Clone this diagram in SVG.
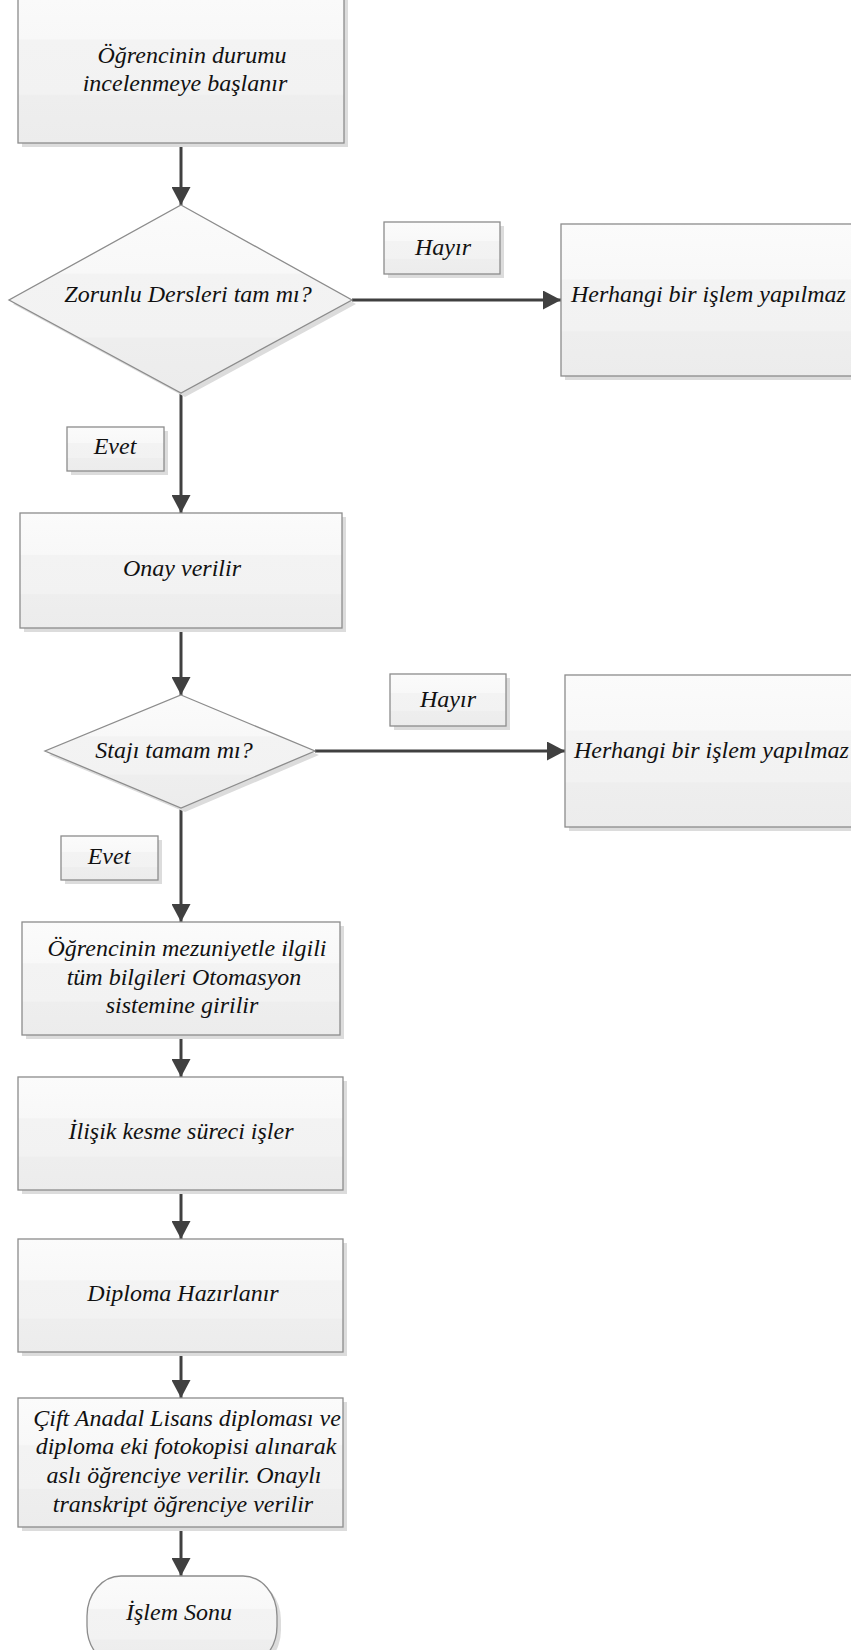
<svg xmlns="http://www.w3.org/2000/svg" width="851" height="1650" viewBox="0 0 851 1650">
<defs>
  <linearGradient id="fill" x1="0" y1="0" x2="0" y2="1">
    <stop offset="0" stop-color="#fbfbfb"/>
    <stop offset="0.36" stop-color="#f8f8f8"/>
    <stop offset="0.37" stop-color="#f3f3f3"/>
    <stop offset="0.7" stop-color="#f2f2f2"/>
    <stop offset="0.71" stop-color="#eeeeee"/>
    <stop offset="1" stop-color="#ececec"/>
  </linearGradient>
  <marker id="arrow" markerUnits="userSpaceOnUse" viewBox="0 0 18 19" markerWidth="18" markerHeight="19" refX="18" refY="9.5" orient="auto">
    <path d="M0,0 L18,9.5 L0,19 Z" fill="#404040"/>
  </marker>
</defs>
<style>
  .shape { fill: url(#fill); stroke: #8c8c8c; stroke-width: 1.3; }
  .shadow { fill: #dcdcdc; stroke: none; }
  .t { font-family: "Liberation Serif", "Times New Roman", serif; font-style: italic; font-size: 24px; fill: #111111; text-anchor: middle; }
  .ts { text-anchor: start; }
  .conn { fill: none; stroke: #404040; stroke-width: 3; marker-end: url(#arrow); }
</style>

<g id="connectors">
  <path class="conn" d="M181,143 L181,205"/>
  <path class="conn" d="M352,300 L561,300"/>
  <path class="conn" d="M181,393 L181,513"/>
  <path class="conn" d="M181,628 L181,695"/>
  <path class="conn" d="M315,751 L565,751"/>
  <path class="conn" d="M181,808 L181,922"/>
  <path class="conn" d="M181,1035 L181,1077"/>
  <path class="conn" d="M181,1190 L181,1239"/>
  <path class="conn" d="M181,1352 L181,1398"/>
  <path class="conn" d="M181,1527 L181,1576"/>
</g>

<g id="n_start">
  <rect class="shadow" x="22" y="-16" width="326" height="163"/>
  <rect class="shape" x="18" y="-20" width="326" height="163"/>
  <text class="t" x="192" y="63">Öğrencinin durumu</text>
  <text class="t" x="185" y="91">incelenmeye başlanır</text>
</g>

<g id="n_dec1">
  <polygon class="shadow" points="185,209 356,304 185,397 13,304"/>
  <polygon class="shape" points="181,205 352,300 181,393 9,300"/>
  <text class="t" x="188" y="302">Zorunlu Dersleri tam mı?</text>
</g>

<g id="n_hayir1">
  <rect class="shadow" x="388" y="226" width="116" height="52"/>
  <rect class="shape" x="384" y="222" width="116" height="52"/>
  <text class="t" x="443" y="255">Hayır</text>
</g>

<g id="n_no1">
  <rect class="shadow" x="565" y="228" width="300" height="152"/>
  <rect class="shape" x="561" y="224" width="300" height="152"/>
  <text class="t ts" x="571" y="302">Herhangi bir işlem yapılmaz</text>
</g>

<g id="n_evet1">
  <rect class="shadow" x="71" y="431" width="97" height="44"/>
  <rect class="shape" x="67" y="427" width="97" height="44"/>
  <text class="t" x="115" y="454">Evet</text>
</g>

<g id="n_onay">
  <rect class="shadow" x="24" y="517" width="322" height="115"/>
  <rect class="shape" x="20" y="513" width="322" height="115"/>
  <text class="t" x="182" y="576">Onay verilir</text>
</g>

<g id="n_dec2">
  <polygon class="shadow" points="185,699 319,755 185,812 49,755"/>
  <polygon class="shape" points="181,695 315,751 181,808 45,751"/>
  <text class="t" x="174" y="758">Stajı tamam mı?</text>
</g>

<g id="n_hayir2">
  <rect class="shadow" x="394" y="678" width="116" height="52"/>
  <rect class="shape" x="390" y="674" width="116" height="52"/>
  <text class="t" x="448" y="707">Hayır</text>
</g>

<g id="n_no2">
  <rect class="shadow" x="569" y="679" width="300" height="152"/>
  <rect class="shape" x="565" y="675" width="300" height="152"/>
  <text class="t ts" x="574" y="758">Herhangi bir işlem yapılmaz</text>
</g>

<g id="n_evet2">
  <rect class="shadow" x="65" y="840" width="97" height="44"/>
  <rect class="shape" x="61" y="836" width="97" height="44"/>
  <text class="t" x="109" y="864">Evet</text>
</g>

<g id="n_giris">
  <rect class="shadow" x="26" y="926" width="318" height="113"/>
  <rect class="shape" x="22" y="922" width="318" height="113"/>
  <text class="t" x="187" y="956">Öğrencinin mezuniyetle ilgili</text>
  <text class="t" x="184" y="985">tüm bilgileri Otomasyon</text>
  <text class="t" x="182" y="1013">sistemine girilir</text>
</g>

<g id="n_ilisik">
  <rect class="shadow" x="22" y="1081" width="325" height="113"/>
  <rect class="shape" x="18" y="1077" width="325" height="113"/>
  <text class="t" x="181" y="1139">İlişik kesme süreci işler</text>
</g>

<g id="n_diploma">
  <rect class="shadow" x="22" y="1243" width="325" height="113"/>
  <rect class="shape" x="18" y="1239" width="325" height="113"/>
  <text class="t" x="183" y="1301">Diploma Hazırlanır</text>
</g>

<g id="n_cift">
  <rect class="shadow" x="22" y="1402" width="325" height="129"/>
  <rect class="shape" x="18" y="1398" width="325" height="129"/>
  <text class="t" x="187" y="1426">Çift Anadal Lisans diploması ve</text>
  <text class="t" x="186" y="1454">diploma eki fotokopisi alınarak</text>
  <text class="t" x="184" y="1483">aslı öğrenciye verilir. Onaylı</text>
  <text class="t" x="183" y="1512">transkript öğrenciye verilir</text>
</g>

<g id="n_end">
  <rect class="shadow" x="91" y="1580" width="190" height="90" rx="34" ry="40"/>
  <rect class="shape" x="87" y="1576" width="190" height="90" rx="34" ry="40"/>
  <text class="t" x="179" y="1620">İşlem Sonu</text>
</g>
</svg>
